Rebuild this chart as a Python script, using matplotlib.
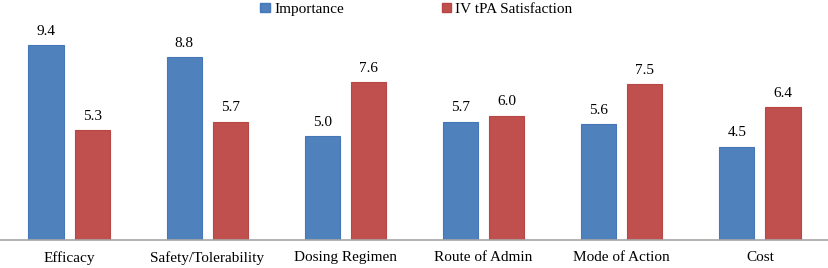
import numpy as np
import matplotlib
matplotlib.use("Agg")
import matplotlib.pyplot as plt
from matplotlib.patches import Patch

categories = ["Efficacy", "Safety/Tolerability", "Dosing Regimen",
              "Route of Admin", "Mode of Action", "Cost"]
importance = [9.4, 8.8, 5.0, 5.7, 5.6, 4.5]
satisfaction = [5.3, 5.7, 7.6, 6.0, 7.5, 6.4]
series_names = ["Importance", "IV tPA Satisfaction"]

plt.rcParams["font.family"] = ["Liberation Serif", "DejaVu Serif"]

fig = plt.figure(figsize=(8.29, 2.68), dpi=100)
ax = fig.add_axes([0.0, 0.1045, 1.0, 0.774])

x = np.arange(len(categories))
w = 0.254
off = 0.167
b1 = ax.bar(x - off, importance, w, color="#4F81BD", edgecolor="#4577B8", linewidth=0.8)
b2 = ax.bar(x + off, satisfaction, w, color="#C0504D", edgecolor="#B84643", linewidth=0.8)

for bars, vals in ((b1, importance), (b2, satisfaction)):
    for r, v in zip(bars, vals):
        ax.text(r.get_x() + r.get_width() / 2, v + 0.35, f"{v:.1f}",
                ha="center", va="bottom", fontsize=11)

ax.set_xlim(-0.5, len(categories) - 0.5)
ax.set_ylim(0, 10)
ax.set_yticks([])
ax.set_xticks(x)
ax.set_xticklabels(categories, fontsize=11)
ax.tick_params(axis="x", length=0, pad=8)
for s in ("top", "left", "right"):
    ax.spines[s].set_visible(False)
ax.spines["bottom"].set_color("#A6A6A6")
ax.spines["bottom"].set_linewidth(1.2)

handles = [Patch(facecolor="#4F81BD", edgecolor="#4577B8"),
           Patch(facecolor="#C0504D", edgecolor="#B84643")]
fig.legend(handles, series_names, loc="center", bbox_to_anchor=(0.5025, 0.965),
           ncol=2, frameon=False, fontsize=11, handlelength=0.6, handleheight=0.6,
           handletextpad=0.3, columnspacing=6.4)

fig.savefig("out.png", dpi=100)
